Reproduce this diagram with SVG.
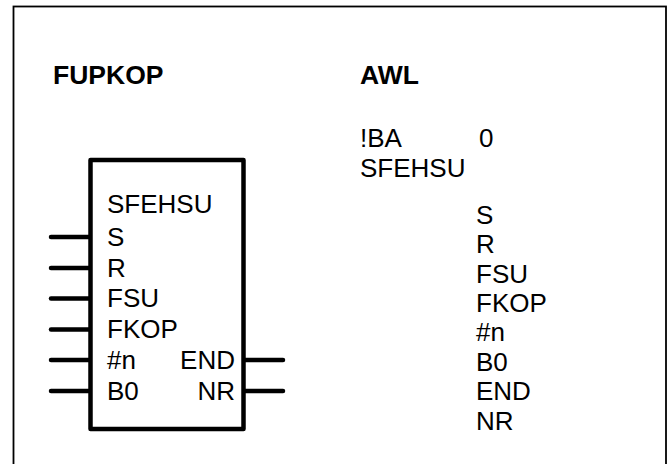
<svg xmlns="http://www.w3.org/2000/svg" width="671" height="464" viewBox="0 0 671 464">
<style>
text{font-family:"Liberation Sans",Arial,sans-serif;font-size:26px;fill:#000}
.h{font-weight:bold;font-size:26.5px}
.pin{stroke:#000;stroke-width:4.5;stroke-linecap:round;fill:none}
.box{stroke:#000;stroke-width:4.5;fill:#fff;stroke-linejoin:round}
</style>
<rect x="13.5" y="6.5" width="652.5" height="470" fill="#fff" stroke="#000" stroke-width="1.8"/>
<text class="h" x="53" y="84">FUPKOP</text>
<text class="h" x="360" y="84">AWL</text>
<g id="connectors">
<line class="pin" x1="51" y1="237" x2="90" y2="237"/>
<line class="pin" x1="51" y1="268" x2="90" y2="268"/>
<line class="pin" x1="51" y1="298.5" x2="90" y2="298.5"/>
<line class="pin" x1="51" y1="329.5" x2="90" y2="329.5"/>
<line class="pin" x1="51" y1="360" x2="90" y2="360"/>
<line class="pin" x1="51" y1="391" x2="90" y2="391"/>
<line class="pin" x1="244" y1="360" x2="283" y2="360"/>
<line class="pin" x1="244" y1="391" x2="283" y2="391"/>
</g>
<g id="sfehsu-block">
<rect class="box" x="90.5" y="160" width="153" height="269"/>
<text x="107" y="213">SFEHSU</text>
<text x="107" y="245.5">S</text>
<text x="107" y="276.5">R</text>
<text x="107" y="307">FSU</text>
<text x="107" y="338">FKOP</text>
<text x="107" y="368.5">#n</text>
<text x="107" y="399.5">B0</text>
<text x="235" y="368.5" text-anchor="end">END</text>
<text x="235" y="399.5" text-anchor="end">NR</text>
</g>
<g id="awl">
<text x="360" y="147">!BA</text>
<text x="479" y="147">0</text>
<text x="360" y="177">SFEHSU</text>
<text x="476" y="223.5">S</text>
<text x="476" y="253">R</text>
<text x="476" y="282.5">FSU</text>
<text x="476" y="312">FKOP</text>
<text x="476" y="341">#n</text>
<text x="476" y="370.5">B0</text>
<text x="476" y="400">END</text>
<text x="476" y="429.5">NR</text>
</g>
</svg>
